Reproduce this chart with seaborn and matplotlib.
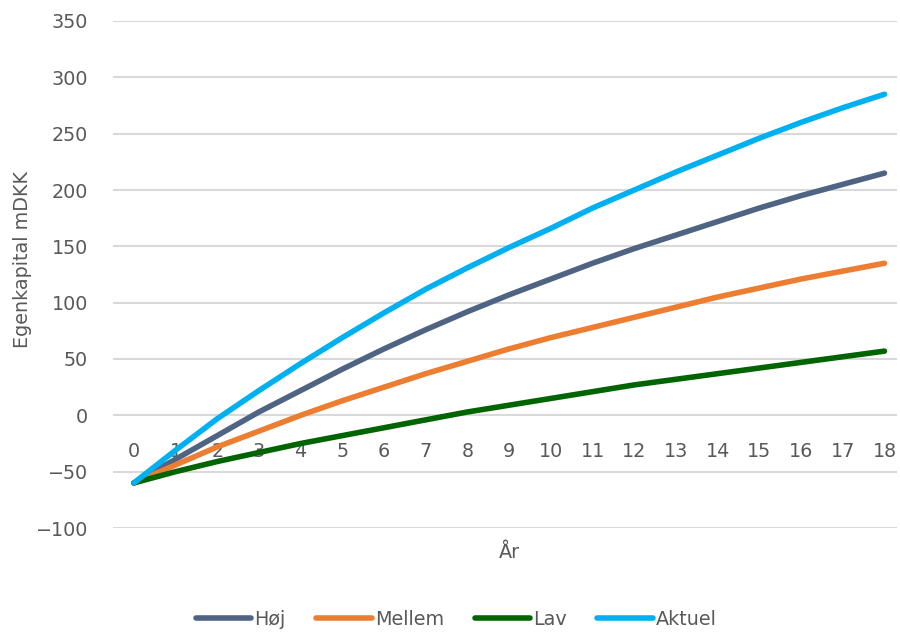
import matplotlib
matplotlib.use("Agg")
import matplotlib.pyplot as plt
import seaborn as sns
import pandas as pd
from matplotlib.lines import Line2D

years = list(range(0, 19))
hoej = [-60, -39, -18, 3, 22, 41, 59, 76, 92, 107, 121, 135, 148, 160, 172, 184, 195, 205, 215]
mellem = [-60, -44, -28, -14, 0, 13, 25, 37, 48, 59, 69, 78, 87, 96, 105, 113, 121, 128, 135]
lav = [-60, -50, -41, -33, -25, -18, -11, -4, 3, 9, 15, 21, 27, 32, 37, 42, 47, 52, 57]
aktuel = [-60, -31, -3, 22, 46, 69, 91, 112, 131, 149, 166, 184, 200, 216, 231, 246, 260, 273, 285]

series_names = ["Høj", "Mellem", "Lav", "Aktuel"]
colors = ["#4f6382", "#ed7d31", "#006400", "#00b0f0"]
y_ticks = [-100, -50, 0, 50, 100, 150, 200, 250, 300, 350]

df = pd.DataFrame({
    "År": years * 4,
    "value": hoej + mellem + lav + aktuel,
    "serie": sum([[n] * len(years) for n in series_names], []),
})

sns.set_theme(style="white")
plt.rcParams["font.family"] = ["DejaVu Sans"]
text_col = "#595959"

fig = plt.figure(figsize=(9, 6.32), dpi=100)
ax = fig.add_axes([113 / 900, 1 - 528 / 632, (897 - 113) / 900, (528 - 21) / 632])

sns.lineplot(data=df, x="År", y="value", hue="serie", hue_order=series_names,
             palette=colors, linewidth=4, ax=ax, legend=False,
             solid_capstyle="round", solid_joinstyle="round")

ax.set_ylim(-100, 350)
ax.set_xlim(-0.5, 18.3)
ax.set_yticks(y_ticks)
ax.set_xticks(years)
ax.set_xticklabels([str(y) for y in years])
ax.yaxis.grid(True, color="#d9d9d9", linewidth=1.5)
ax.xaxis.grid(False)
ax.set_axisbelow(True)
for s in ["top", "right", "left"]:
    ax.spines[s].set_visible(False)
ax.spines["bottom"].set_position(("data", 0))
ax.spines["bottom"].set_visible(False)
ax.tick_params(axis="both", length=0, labelsize=13.8, labelcolor=text_col)
ax.tick_params(axis="x", pad=19)
ax.tick_params(axis="y", pad=18)

ax.set_ylabel("Egenkapital mDKK", fontsize=13.8, color=text_col)
ax.yaxis.set_label_coords(-0.103, 0.53)
ax.set_xlabel("År", fontsize=13.8, color=text_col)
ax.xaxis.set_label_coords(0.505, -0.03)

handles = [Line2D([0], [0], color=c, linewidth=4, solid_capstyle="round") for c in colors]
fig.legend(handles, series_names, loc="lower center", bbox_to_anchor=(0.507, -0.022),
           ncol=4, frameon=False, fontsize=13.8, labelcolor=text_col,
           handlelength=2.9, handletextpad=0.15, columnspacing=1.6)

fig.savefig("out.png", dpi=100)
